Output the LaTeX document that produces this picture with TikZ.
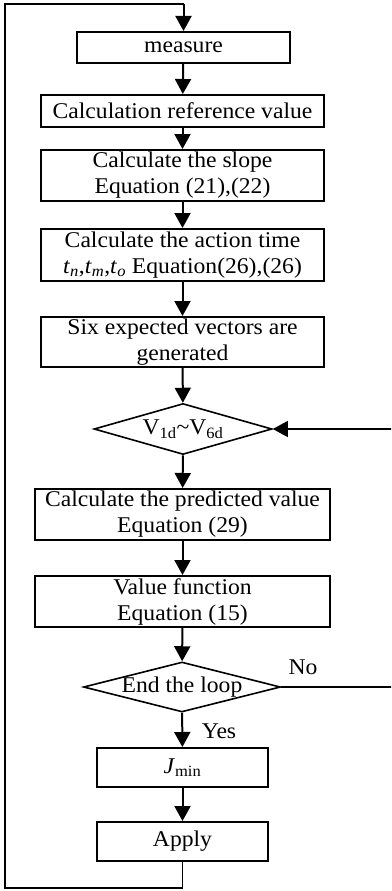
\documentclass[tikz,border=0pt]{standalone}
\usepackage{fontspec}
\setmainfont{Liberation Serif}[FakeStretch=1.05]
\usetikzlibrary{shapes.geometric,arrows.meta}
\begin{document}
\begin{tikzpicture}[x=1pt,y=-1pt,
  every node/.style={font=\fontsize{22.5}{26}\selectfont},
  box/.style={draw,line width=2pt,rectangle,inner sep=0pt,align=center},
  dec/.style={draw,line width=1.6pt,diamond,inner sep=0pt},
  flow/.style={line width=2pt,-{Triangle[length=15pt,width=16pt]}},
  loopline/.style={line width=1.3pt},
  lab/.style={inner sep=0pt}]
\clip (0,0) rectangle (391,891);
\node[box,minimum width=213pt,minimum height=31pt] (measure) at (183.5,47.5) {measure};
\node[box,minimum width=283pt,minimum height=32pt] (ref) at (182.5,111) {Calculation reference value};
\node[box,minimum width=283pt,minimum height=51pt] (slope) at (182.5,175.5) {Calculate the slope\\Equation (21),(22)};
\node[box,minimum width=283pt,minimum height=52pt] (act) at (182.5,255) {Calculate the action time\\\textit{t}\textsubscript{\textit{n}},\textit{t}\textsubscript{\textit{m}},\textit{t}\textsubscript{\textit{o}} Equation(26),(26)};
\node[box,minimum width=283pt,minimum height=50pt] (six) at (182.5,342) {Six expected vectors are\\generated};
\node[dec,shape aspect=3.49,minimum width=178pt,minimum height=51pt,label={[inner sep=0pt]center:V\textsubscript{1d}\textasciitilde V\textsubscript{6d}}] (vd) at (183,429) {};
\node[box,minimum width=295pt,minimum height=51pt] (pred) at (182.5,514.5) {Calculate the predicted value\\Equation (29)};
\node[box,minimum width=295pt,minimum height=51pt] (valf) at (182.5,601.5) {Value function\\Equation (15)};
\node[dec,shape aspect=3.94,minimum width=197pt,minimum height=50pt,label={[inner sep=0pt]center:End the loop}] (endl) at (182,687) {};
\node[box,minimum width=171pt,minimum height=39pt] (jmin) at (182.5,767.5) {\textit{J}\textsubscript{min}};
\node[box,minimum width=171pt,minimum height=39pt] (apply) at (182.5,841.5) {Apply};
\node[lab] (no) at (303,667) {No};
\node[lab] (yes) at (219,731) {Yes};
\coordinate (bl) at (5,888);
\coordinate (tl) at (5,4);
\coordinate (tr) at (183.5,4);
\coordinate (rr) at (400,687);
\draw[flow] (measure) -- (ref);
\draw[flow] (ref) -- (slope);
\draw[flow] (slope) -- (act);
\draw[flow] (act) -- (six);
\draw[flow] (six) -- (vd);
\draw[flow] (vd) -- (pred);
\draw[flow] (pred) -- (valf);
\draw[flow] (valf) -- (endl);
\draw[flow] (endl) -- (jmin);
\draw[flow] (jmin) -- (apply);
\draw[loopline] (apply.south) |- (bl) -- (tl) -- (tr);
\draw[flow] (tr) -- (measure.north);
\draw[loopline] (endl.east) -- (rr);
\draw[loopline,-{Triangle[length=15pt,width=16pt]}] (rr) |- (vd.east);
\end{tikzpicture}
\end{document}
